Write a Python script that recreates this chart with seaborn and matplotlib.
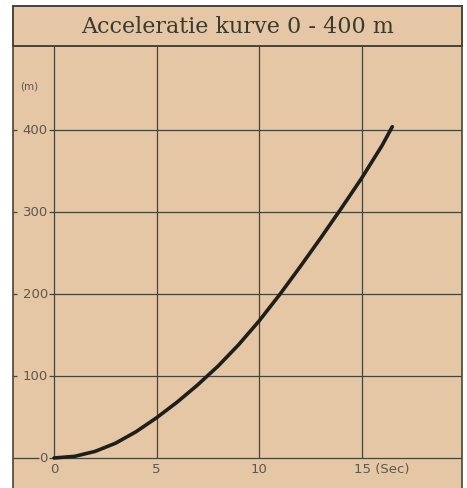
import numpy as np
import pandas as pd
import seaborn as sns
import matplotlib.pyplot as plt

# Data
tijd = [0, 1, 2, 3, 4, 5, 6, 7, 8, 9, 10, 11, 12, 13, 14, 15, 16, 16.5]
afstand = [0, 2, 8, 18, 32, 49, 68, 89, 112, 138, 167, 199, 233, 268, 304, 341, 381, 404]
x_ticks = [0, 5, 10, 15]
y_ticks = [0, 100, 200, 300, 400]
titel = "Acceleratie kurve 0 - 400 m"

bg = "#e5c7a6"
lijn = "#45453a"
tekst = "#5e574c"

df = pd.DataFrame({"tijd": tijd, "afstand": afstand})

sns.set_style("white")
fig = plt.figure(figsize=(4.67, 4.89), dpi=100)

# Chart area
ax = fig.add_axes([13 / 467, 0, 449 / 467, 442 / 489])
ax.set_facecolor(bg)
ax.set_xlim(-2.0, 19.9)
ax.set_ylim(-36.6, 502.4)
for s in ["left", "right", "top"]:
    ax.spines[s].set_color(lijn)
    ax.spines[s].set_linewidth(1.2)
ax.spines["bottom"].set_visible(False)
ax.set_xticks([])
ax.set_yticks([])

# grid
for x in x_ticks:
    ax.vlines(x, 0, 502.4, color=lijn, lw=0.9, zorder=1)
for y in y_ticks[1:]:
    ax.hlines(y, -0.25, 19.9, color=lijn, lw=0.9, zorder=1)
    ax.hlines(y, -2.0, -1.8, color=lijn, lw=0.9, zorder=1)
ax.hlines(0, -0.25, 19.9, color=lijn, lw=0.9, zorder=1)
ax.hlines(0, -2.0, -0.75, color=lijn, lw=0.9, zorder=1)

# labels
for y in y_ticks:
    ax.text(-0.3, y, str(y), ha="right", va="center", fontsize=9.5, color=tekst)
ax.text(-1.2, 454, "(m)", ha="center", va="center", fontsize=7.5, color=tekst)
for x in x_ticks[:-1]:
    ax.text(x, -13, str(x), ha="center", va="center", fontsize=9.5, color=tekst)
ax.text(15 - 0.35, -13, "15 (Sec)", ha="left", va="center", fontsize=9.5, color=tekst)

sns.lineplot(data=df, x="tijd", y="afstand", ax=ax, color="#1e1e1a", lw=2.6,
             zorder=3, solid_joinstyle="round", solid_capstyle="round")
ax.set_xlabel("")
ax.set_ylabel("")

# Title band
tax = fig.add_axes([13 / 467, 442 / 489, 449 / 467, 40 / 489])
tax.set_facecolor(bg)
tax.set_xticks([])
tax.set_yticks([])
for s in tax.spines.values():
    s.set_color(lijn)
    s.set_linewidth(1.4)
tax.text(0.5, 0.5, titel, ha="center", va="center", fontsize=16,
         family="DejaVu Serif", color="#3a3a30", transform=tax.transAxes)

fig.savefig("out.png", dpi=100, facecolor="white")
